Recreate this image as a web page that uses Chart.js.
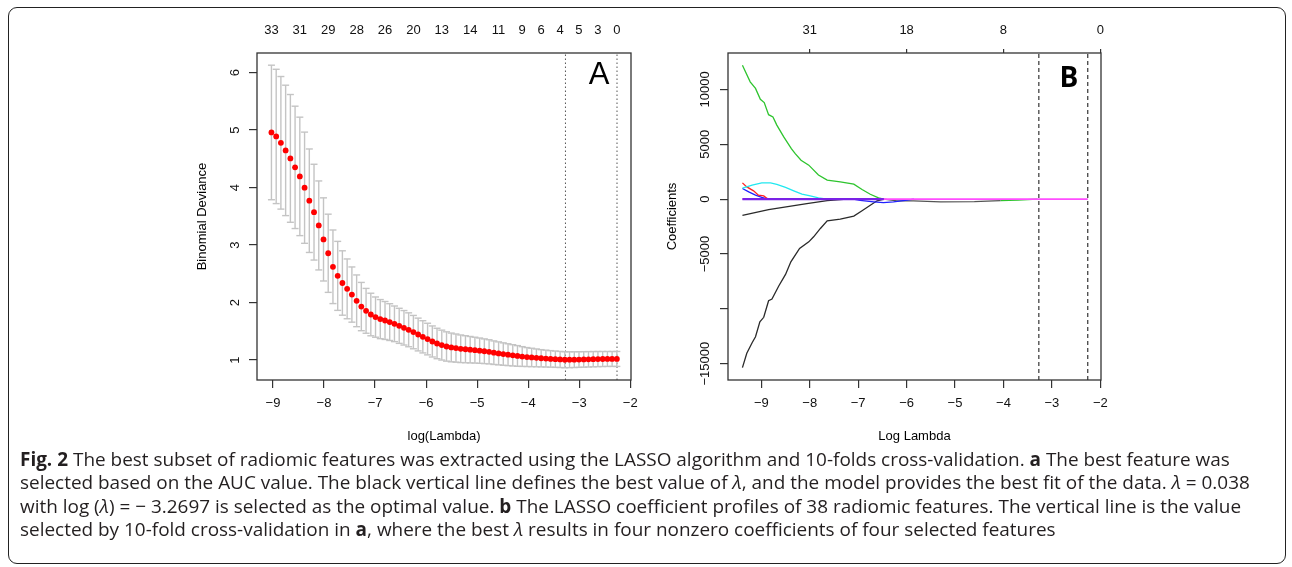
<!DOCTYPE html>
<html>
<head>
<meta charset="utf-8">
<script src="https://cdn.jsdelivr.net/npm/chart.js@4.4.0/dist/chart.umd.min.js"></script>
<style>
  html, body { margin: 0; padding: 0; background: #fff; }
  body { width: 1292px; height: 567px; position: relative; overflow: hidden; }
  .frame { position: absolute; left: 8px; top: 7px; width: 1278px; height: 557px; border: 1.5px solid #222; border-radius: 9px; box-sizing: border-box; }
  canvas { position: absolute; top: 0; }
  #cvA { left: 190px; }
  #cvB { left: 660px; }
  .tag { position: absolute; line-height: 1; transform: translateX(-50%); color: #000; }
  #tagA { left: 599px; top: 56px; font: 31px "Liberation Sans", Arial, sans-serif; }
  #tagB { left: 1069px; top: 57px; font: bold 28px "Open Sans", sans-serif; }
  .caption { position: absolute; left: 20px; top: 448px; font-family: "Open Sans", sans-serif; font-size: 18px; line-height: 23.3px; color: #231f20; white-space: nowrap; }
</style>
</head>
<body>
<div class="frame"></div>
<canvas id="cvA" width="460" height="450"></canvas>
<canvas id="cvB" width="460" height="450"></canvas>
<div class="tag" id="tagA">A</div>
<div class="tag" id="tagB">B</div>
<div class="caption" id="caption">
  <div><span class="capFit"><b>Fig. 2</b> The best subset of radiomic features was extracted using the LASSO algorithm and 10-folds cross-validation. <b>a</b> The best feature was</span></div>
  <div><span class="capFit">selected based on the AUC value. The black vertical line defines the best value of <i>λ</i>, and the model provides the best fit of the data. <i>λ</i> = 0.038</span></div>
  <div><span class="capFit">with log (<i>λ</i>) = − 3.2697 is selected as the optimal value. <b>b</b> The LASSO coefficient profiles of 38 radiomic features. The vertical line is the value</span></div>
  <div><span>selected by 10-fold cross-validation in <b>a</b>, where the best <i>λ</i> results in four nonzero coefficients of four selected features</span></div>
</div>
<script>
// ---- panel A: cross-validation curve ----
const logLambdaA = [
  -9.030, -8.937, -8.845, -8.752, -8.659, -8.567, -8.474, -8.381, -8.288, -8.196,
  -8.103, -8.010, -7.918, -7.825, -7.732, -7.640, -7.547, -7.454, -7.361, -7.269,
  -7.176, -7.083, -6.991, -6.898, -6.805, -6.713, -6.620, -6.527, -6.434, -6.342,
  -6.249, -6.156, -6.064, -5.971, -5.878, -5.786, -5.693, -5.600, -5.507, -5.415,
  -5.322, -5.229, -5.137, -5.044, -4.951, -4.859, -4.766, -4.673, -4.580, -4.488,
  -4.395, -4.302, -4.210, -4.117, -4.024, -3.932, -3.839, -3.746, -3.653, -3.561,
  -3.468, -3.375, -3.283, -3.190, -3.097, -3.005, -2.912, -2.819, -2.726, -2.634,
  -2.541, -2.448, -2.356, -2.263
];
const devianceA = [
  4.958, 4.889, 4.778, 4.646, 4.507, 4.351, 4.194, 3.997, 3.771, 3.572,
  3.341, 3.098, 2.857, 2.622, 2.464, 2.340, 2.238, 2.139, 2.030, 1.930,
  1.856, 1.792, 1.747, 1.712, 1.688, 1.660, 1.630, 1.595, 1.561, 1.526,
  1.486, 1.444, 1.404, 1.365, 1.323, 1.288, 1.260, 1.236, 1.219, 1.208,
  1.196, 1.188, 1.180, 1.172, 1.163, 1.153, 1.143, 1.128, 1.116, 1.104,
  1.093, 1.082, 1.071, 1.061, 1.052, 1.045, 1.038, 1.031, 1.025, 1.020,
  1.015, 1.010, 1.005, 1.006, 1.007, 1.009, 1.011, 1.013, 1.015, 1.017,
  1.018, 1.019, 1.019, 1.019
];
const devianceSE = [
  1.170, 1.168, 1.153, 1.134, 1.111, 1.064, 1.030, 0.967, 0.900, 0.833,
  0.774, 0.723, 0.680, 0.640, 0.600, 0.560, 0.520, 0.480, 0.450, 0.420,
  0.390, 0.370, 0.350, 0.340, 0.330, 0.320, 0.310, 0.305, 0.300, 0.295,
  0.290, 0.285, 0.280, 0.275, 0.270, 0.265, 0.260, 0.255, 0.250, 0.245,
  0.240, 0.235, 0.230, 0.225, 0.220, 0.215, 0.210, 0.205, 0.200, 0.195,
  0.190, 0.185, 0.180, 0.172, 0.165, 0.160, 0.155, 0.150, 0.147, 0.144,
  0.142, 0.140, 0.139, 0.138, 0.137, 0.136, 0.135, 0.134, 0.133, 0.132,
  0.131, 0.130, 0.130, 0.130
];
// number of nonzero coefficients shown on the top axis, and which lambda they sit on
const dfTopA = [33, 31, 29, 28, 26, 20, 13, 14, 11, 9, 6, 4, 5, 3, 0];
const dfTopAIdx = [0, 6, 12, 18, 24, 30, 36, 42, 48, 53, 57, 61, 65, 69, 73];
const cvLambda = [-3.27, -2.26]; // lambda.min, lambda.1se
const yTicksA = [1, 2, 3, 4, 5, 6];
const xTicks = [-9, -8, -7, -6, -5, -4, -3, -2];

// ---- panel B: coefficient paths [logLambda, coef] ----
const coefBlackLow = [[-9.39, -15360], [-9.30, -14050], [-9.19, -13090], [-9.12, -12540], [-9.03, -11180], [-8.95, -10770],
  [-8.85, -9260], [-8.78, -9110], [-8.64, -7920], [-8.50, -6860], [-8.39, -5710], [-8.21, -4490], [-8.02, -3890],
  [-7.92, -3430], [-7.78, -2670], [-7.64, -1980], [-7.37, -1820], [-7.09, -1550], [-6.92, -1060], [-6.75, -550],
  [-6.61, -150], [-6.47, 0]];
const coefGreen = [[-9.39, 12200], [-9.23, 10700], [-9.12, 10100], [-9.02, 9100], [-8.94, 8800], [-8.85, 7700],
  [-8.76, 7500], [-8.68, 6750], [-8.54, 5700], [-8.38, 4600], [-8.30, 4150], [-8.18, 3550], [-8.02, 3100],
  [-7.82, 2200], [-7.64, 1730], [-7.37, 1580], [-7.09, 1370], [-6.92, 880], [-6.75, 450], [-6.58, 120], [-6.47, 0]];
const coefCyan = [[-9.39, 1000], [-9.19, 1275], [-8.99, 1485], [-8.81, 1485], [-8.68, 1340], [-8.50, 1066],
  [-8.33, 756], [-8.16, 455], [-7.99, 300], [-7.82, 118], [-7.64, 0]];
const coefRed = [[-9.39, 1485], [-9.30, 1120], [-9.16, 756], [-9.06, 364], [-8.95, 300], [-8.88, 64], [-8.85, 0]];
const coefBlue = [[-9.39, 974], [-9.26, 665], [-9.12, 364], [-8.99, 155], [-8.88, 27], [-8.85, 0]];
const coefBlueDip = [[-7.10, 0], [-6.96, -120], [-6.68, -245], [-6.48, -320], [-6.27, -245], [-5.99, -90], [-5.85, 0]];
const coefBlackUp = [[-9.39, -1480], [-8.85, -950], [-8.06, -400], [-7.64, -130], [-7.30, -20], [-7.10, 0]];
const coefGray = [[-6.47, 0], [-6.20, -150], [-5.86, -160], [-5.30, -240], [-4.60, -230], [-4.06, -130]];
const coefGreenLate = [[-4.06, -130], [-3.70, -90], [-3.30, 0]];
const coefPurple = [[-9.39, 0], [-6.47, 0]];
const coefMagenta = [[-9.39, 0], [-2.26, 0]];
const dfTopB = [31, 18, 8, 0];
const dfTopBAt = [-8, -6, -4, -2];
const yTicksB = [-15000, -10000, -5000, 0, 5000, 10000];

const AXIS_FONT = { family: '"Liberation Sans", Arial, sans-serif', size: 13 };
const minus = v => (v < 0 ? '\u2212' + Math.abs(v) : String(v));

// caption: size the font so the three full lines together span the figure's width
(function fitCaption() {
  const cap = document.getElementById('caption');
  let w = 0;
  document.querySelectorAll('.capFit').forEach(s => { w += s.getBoundingClientRect().width; });
  const size = parseFloat(getComputedStyle(cap).fontSize);
  cap.style.fontSize = (size * (1205 + 1237 + 1223) / w).toFixed(2) + 'px';
})();

// box around the plot region, like R's box()
const boxPlugin = {
  id: 'box',
  afterDatasetsDraw(chart) {
    const { ctx, chartArea: a } = chart;
    ctx.save();
    ctx.strokeStyle = '#333';
    ctx.lineWidth = 1.3;
    ctx.strokeRect(a.left, a.top, a.right - a.left, a.bottom - a.top);
    ctx.restore();
  }
};

function toXY(pairs) {
  return pairs.map(p => ({ x: p[0], y: p[1] }));
}

// ---------- chart A ----------
const yMinA = 0.653, yMaxA = 6.34;
const stems = [];
const caps = [];
logLambdaA.forEach((x, i) => {
  const lo = devianceA[i] - devianceSE[i];
  const hi = devianceA[i] + devianceSE[i];
  stems.push({ x, y: lo }, { x, y: hi }, { x, y: null });
  caps.push({ x, y: lo }, { x, y: hi });
});

const cvLines = cvLambda.map(v => ({
  type: 'line',
  data: [{ x: v, y: yMinA }, { x: v, y: yMaxA }],
  borderColor: '#555',
  borderWidth: 1,
  borderDash: [1.5, 2.5],
  pointRadius: 0
}));

new Chart(document.getElementById('cvA').getContext('2d'), {
  type: 'scatter',
  data: {
    datasets: [
      {
        data: logLambdaA.map((x, i) => ({ x, y: devianceA[i] })),
        backgroundColor: '#ff0000',
        borderWidth: 0,
        pointRadius: 2.9
      },
      {
        data: caps,
        pointStyle: 'line',
        pointRadius: 3.5,
        borderColor: '#c4c4c4',
        borderWidth: 1.4
      },
      {
        type: 'line',
        data: stems,
        borderColor: '#c4c4c4',
        borderWidth: 1.4,
        pointRadius: 0,
        spanGaps: false
      },
      ...cvLines
    ]
  },
  options: {
    responsive: false,
    animation: false,
    events: [],
    layout: { padding: { left: 5, right: 19, top: 0, bottom: 6 } },
    plugins: { legend: { display: false }, tooltip: { enabled: false } },
    scales: {
      x: {
        type: 'linear', position: 'bottom', min: -9.313, max: -1.986,
        afterBuildTicks: a => { a.ticks = xTicks.map(v => ({ value: v })); },
        afterFit: a => { a.height = 64; },
        ticks: { autoSkip: false, maxRotation: 0, padding: 8, color: '#111', font: AXIS_FONT, callback: v => minus(v) },
        grid: { drawOnChartArea: false, tickLength: 8, color: '#333', lineWidth: 1.2 },
        border: { display: false },
        title: { display: true, text: 'log(Lambda)', padding: 0, color: '#000', font: AXIS_FONT }
      },
      xTop: {
        type: 'linear', position: 'top', min: -9.313, max: -1.986,
        afterBuildTicks: a => { a.ticks = dfTopAIdx.map(i => ({ value: logLambdaA[i] })); },
        afterFit: a => { a.height = 53; },
        ticks: { autoSkip: false, maxRotation: 0, padding: 15, color: '#111', font: AXIS_FONT, callback: (v, i) => String(dfTopA[i]) },
        grid: { display: false, drawTicks: false },
        border: { display: false }
      },
      y: {
        type: 'linear', position: 'left', min: yMinA, max: yMaxA,
        afterBuildTicks: a => { a.ticks = yTicksA.map(v => ({ value: v })); },
        afterFit: a => { a.width = 62; },
        ticks: { autoSkip: false, minRotation: 90, maxRotation: 90, crossAlign: 'center', padding: 10.4, color: '#111', font: AXIS_FONT },
        grid: { drawOnChartArea: false, tickLength: 8, color: '#333', lineWidth: 1.2 },
        border: { display: false },
        title: { display: true, text: 'Binomial Deviance', padding: 0, color: '#000', font: AXIS_FONT }
      }
    }
  },
  plugins: [boxPlugin]
});

// ---------- chart B ----------
const yMinB = -16485, yMaxB = 13324;
function path(pairs, color, width) {
  return { data: toXY(pairs), borderColor: color, borderWidth: width || 1.3, pointRadius: 0, tension: 0 };
}
const cutLinesB = cvLambda.map(v => ({
  data: [{ x: v, y: yMinB }, { x: v, y: yMaxB }],
  borderColor: '#444',
  borderWidth: 1.3,
  borderDash: [4, 3],
  pointRadius: 0
}));

new Chart(document.getElementById('cvB').getContext('2d'), {
  type: 'line',
  data: {
    datasets: [
      ...cutLinesB,
      path(coefPurple, '#7a22e6', 2.4),
      path(coefMagenta, '#ff4dff', 1.6),
      path(coefGreen, '#2ec42e'),
      path(coefCyan, '#22e8f0'),
      path(coefRed, '#ff2020'),
      path(coefBlue, '#2020ff'),
      path(coefBlueDip, '#2020ff'),
      path(coefBlackLow, '#2a2a2a'),
      path(coefBlackUp, '#2a2a2a'),
      path(coefGray, '#555555'),
      path(coefGreenLate, '#2ec42e')
    ]
  },
  options: {
    responsive: false,
    animation: false,
    events: [],
    layout: { padding: { left: 5, right: 19, top: 0, bottom: 6 } },
    plugins: { legend: { display: false }, tooltip: { enabled: false } },
    scales: {
      x: {
        type: 'linear', position: 'bottom', min: -9.688, max: -1.986,
        afterBuildTicks: a => { a.ticks = xTicks.map(v => ({ value: v })); },
        afterFit: a => { a.height = 64; },
        ticks: { autoSkip: false, maxRotation: 0, padding: 8, color: '#111', font: AXIS_FONT, callback: v => minus(v) },
        grid: { drawOnChartArea: false, tickLength: 8, color: '#333', lineWidth: 1.2 },
        border: { display: false },
        title: { display: true, text: 'Log Lambda', padding: 0, color: '#000', font: AXIS_FONT }
      },
      xTop: {
        type: 'linear', position: 'top', min: -9.688, max: -1.986,
        afterBuildTicks: a => { a.ticks = dfTopBAt.map(v => ({ value: v })); },
        afterFit: a => { a.height = 53; },
        ticks: { autoSkip: false, maxRotation: 0, padding: 11.2, color: '#111', font: AXIS_FONT, callback: (v, i) => String(dfTopB[i]) },
        grid: { drawOnChartArea: false, tickLength: 4, color: '#333', lineWidth: 1.2 },
        border: { display: false }
      },
      y: {
        type: 'linear', position: 'left', min: yMinB, max: yMaxB,
        afterBuildTicks: a => { a.ticks = yTicksB.map(v => ({ value: v })); },
        afterFit: a => { a.width = 63; },
        ticks: {
          autoSkip: false, minRotation: 90, maxRotation: 90, crossAlign: 'center', padding: -6.9,
          color: '#111', font: AXIS_FONT,
          callback: v => (v === -10000 ? '' : minus(v))
        },
        grid: { drawOnChartArea: false, tickLength: 8, color: '#333', lineWidth: 1.2 },
        border: { display: false },
        title: { display: true, text: 'Coefficients', padding: 0, color: '#000', font: AXIS_FONT }
      }
    }
  },
  plugins: [boxPlugin]
});
</script>
</body>
</html>
